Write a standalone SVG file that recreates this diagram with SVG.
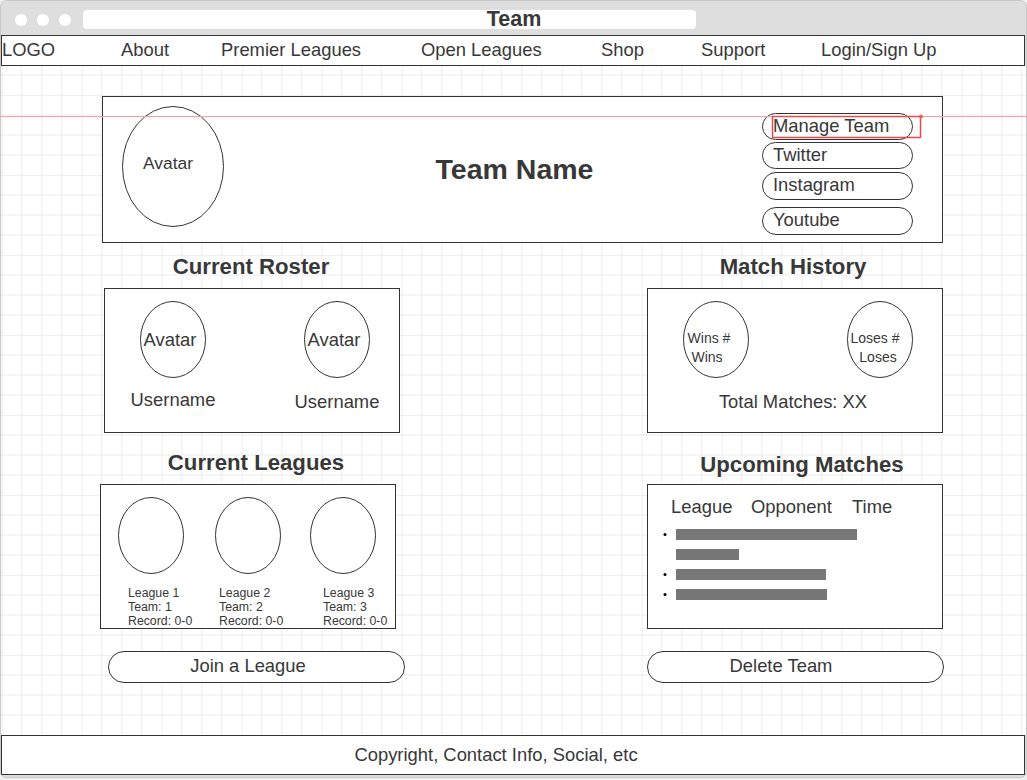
<svg xmlns="http://www.w3.org/2000/svg" width="1027" height="780" viewBox="0 0 1027 780">
<defs>
<pattern id="grid" x="1.7" y="15" width="80" height="80" patternUnits="userSpaceOnUse">
<rect width="80" height="80" fill="#ffffff"/>
<path d="M20 0V80M40 0V80M60 0V80M0 20H80M0 40H80M0 60H80" stroke="#ececec" stroke-width="1" fill="none"/>
<path d="M0 0V80M0 0H80" stroke="#e0e0e0" stroke-width="1" fill="none"/>
</pattern>
<style>
.box{fill:#fff;stroke:#333;stroke-width:1}
.ell{fill:#fff;stroke:#333;stroke-width:1}
.pill{fill:#fff;stroke:#333;stroke-width:1}
.t{font-family:"Liberation Sans",Arial,sans-serif;fill:#383838}
.nav{font-size:18.4px}
.h{font-size:22.2px;font-weight:bold;text-anchor:middle}
.m{font-size:18.4px}
.s{font-size:12.3px}
.xs{font-size:14px}
.c{text-anchor:middle}
.bar{fill:#777}
</style>
</defs>
<rect x="0" y="0" width="1027" height="780" fill="#f0f0f0"/>
<rect x="0.5" y="0.5" width="1026" height="777" rx="6" fill="#dedede" stroke="#c8c8c8"/>
<rect x="1" y="65" width="1025" height="670" fill="url(#grid)"/>
<g id="titlebar">
<circle cx="21" cy="20" r="6" fill="#fff"/>
<circle cx="43" cy="20" r="6" fill="#fff"/>
<circle cx="65" cy="20" r="6" fill="#fff"/>
<rect x="83" y="10" width="613" height="19" rx="4" fill="#fff"/>
<text class="t" x="514" y="26" font-size="21.5" font-weight="bold" text-anchor="middle">Team</text>
</g>
<g id="navbar">
<rect class="box" x="1.5" y="35.5" width="1023" height="30"/>
<text class="t nav" x="2" y="56">LOGO</text>
<text class="t nav" x="121" y="56">About</text>
<text class="t nav" x="221" y="56">Premier Leagues</text>
<text class="t nav" x="421" y="56">Open Leagues</text>
<text class="t nav" x="601" y="56">Shop</text>
<text class="t nav" x="701" y="56">Support</text>
<text class="t nav" x="821" y="56">Login/Sign Up</text>
</g>
<g id="header">
<rect class="box" x="102.5" y="96.5" width="840" height="146"/>
<ellipse class="ell" cx="173" cy="166.5" rx="50.5" ry="60"/>
<text class="t" x="168" y="169" font-size="17.4" text-anchor="middle">Avatar</text>
<text class="t" x="514.5" y="179" font-size="28.5" font-weight="bold" text-anchor="middle">Team Name</text>
</g>
<g id="btn-manage"><rect class="pill" x="762.5" y="113.5" width="150" height="26" rx="13"/><text class="t m" x="773" y="132">Manage Team</text></g>
<g id="btn-twitter"><rect class="pill" x="762.5" y="142.5" width="150" height="26" rx="13"/><text class="t m" x="773" y="161">Twitter</text></g>
<g id="btn-instagram"><rect class="pill" x="762.5" y="172.5" width="150" height="27" rx="13.5"/><text class="t m" x="773" y="191">Instagram</text></g>
<g id="btn-youtube"><rect class="pill" x="762.5" y="207.5" width="150" height="27" rx="13.5"/><text class="t m" x="773" y="226">Youtube</text></g>
<g id="roster">
<text class="t h" x="251" y="274">Current Roster</text>
<rect class="box" x="104.5" y="288.5" width="295" height="144"/>
<ellipse class="ell" cx="173" cy="339.5" rx="32.5" ry="38"/>
<text class="t m c" x="170" y="346">Avatar</text>
<ellipse class="ell" cx="337" cy="339.5" rx="32.5" ry="38"/>
<text class="t m c" x="334" y="346">Avatar</text>
<text class="t m c" x="173" y="406">Username</text>
<text class="t m c" x="337" y="408">Username</text>
</g>
<g id="history">
<text class="t h" x="793" y="274">Match History</text>
<rect class="box" x="647.5" y="288.5" width="295" height="144"/>
<ellipse class="ell" cx="716" cy="339.5" rx="32.5" ry="38"/>
<text class="t xs c" x="709" y="343">Wins #</text>
<text class="t xs c" x="707" y="362">Wins</text>
<ellipse class="ell" cx="880" cy="339.5" rx="32.5" ry="38"/>
<text class="t xs c" x="875" y="343">Loses #</text>
<text class="t xs c" x="878" y="362">Loses</text>
<text class="t m c" x="793" y="408">Total Matches: XX</text>
</g>
<g id="leagues">
<text class="t h" x="256" y="470">Current Leagues</text>
<rect class="box" x="100.5" y="484.5" width="295" height="144"/>
<ellipse class="ell" cx="151" cy="535.5" rx="32.5" ry="38"/>
<ellipse class="ell" cx="248" cy="535.5" rx="32.5" ry="38"/>
<ellipse class="ell" cx="343" cy="535.5" rx="32.5" ry="38"/>
<text class="t s" x="128" y="597">League 1</text>
<text class="t s" x="128" y="611">Team: 1</text>
<text class="t s" x="128" y="625">Record: 0-0</text>
<text class="t s" x="219" y="597">League 2</text>
<text class="t s" x="219" y="611">Team: 2</text>
<text class="t s" x="219" y="625">Record: 0-0</text>
<text class="t s" x="323" y="597">League 3</text>
<text class="t s" x="323" y="611">Team: 3</text>
<text class="t s" x="323" y="625">Record: 0-0</text>
</g>
<g id="upcoming">
<text class="t h" x="802" y="472">Upcoming Matches</text>
<rect class="box" x="647.5" y="484.5" width="295" height="144"/>
<text class="t m" x="671" y="513">League</text>
<text class="t m" x="751" y="513">Opponent</text>
<text class="t m" x="852" y="513">Time</text>
<circle cx="665" cy="534.5" r="1.5" fill="#000"/>
<circle cx="665" cy="574.5" r="1.5" fill="#000"/>
<circle cx="665" cy="594.5" r="1.5" fill="#000"/>
<rect class="bar" x="676" y="529" width="181" height="11"/>
<rect class="bar" x="676" y="549" width="63" height="11"/>
<rect class="bar" x="676" y="569" width="150" height="11"/>
<rect class="bar" x="676" y="589" width="151" height="11"/>
</g>
<g id="btn-join"><rect class="pill" x="108.5" y="651.5" width="296" height="31" rx="15.5"/><text class="t m c" x="248" y="672">Join a League</text></g>
<g id="btn-delete"><rect class="pill" x="647.5" y="651.5" width="296" height="31" rx="15.5"/><text class="t m c" x="781" y="672">Delete Team</text></g>
<g id="footer">
<rect class="box" x="1.5" y="735.5" width="1023" height="39"/>
<text class="t m c" x="496" y="761">Copyright, Contact Info, Social, etc</text>
</g>
<g id="guides">
<line x1="0" y1="116.5" x2="1027" y2="116.5" stroke="#ff9f9f" stroke-width="1"/>
<rect x="772.5" y="116.5" width="148" height="21" fill="none" stroke="#f04848" stroke-width="1.5"/>
<circle cx="921" cy="116.5" r="2" fill="#f06060"/>
</g>
</svg>
